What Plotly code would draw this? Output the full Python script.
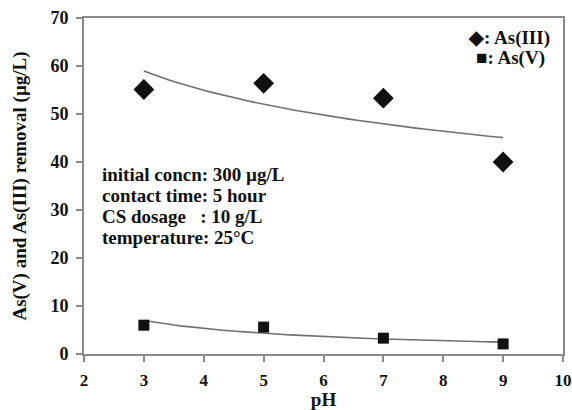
import numpy as np
import plotly.graph_objects as go

# Data
ph = [3, 5, 7, 9]
as3_removal = [55.1, 56.4, 53.3, 40.0]
as5_removal = [6.0, 5.6, 3.3, 2.1]
x_ticks = [2, 3, 4, 5, 6, 7, 8, 9, 10]
y_ticks = [0, 10, 20, 30, 40, 50, 60, 70]
conditions = ["initial concn: 300 µg/L", "contact time: 5 hour",
              "CS dosage   : 10 g/L", "temperature: 25°C"]
condition_y = [37.4, 33.0, 28.6, 24.2]
legend_labels = ["◆: As(III)", "■: As(V)"]

FONT = "Liberation Serif"
AXC = "#8a8a8a"
TXT = "#111111"


def power_trend(x, y):
    # Excel-style power trendline fitted to the data
    b, lna = np.polyfit(np.log(x), np.log(y), 1)
    xs = np.linspace(min(x), max(x), 60)
    return xs, np.exp(lna) * xs ** b


fig = go.Figure()
for ys in (as3_removal, as5_removal):
    tx, ty = power_trend(ph, ys)
    fig.add_trace(go.Scatter(x=tx, y=ty, mode="lines",
                             line=dict(color="#707070", width=1.6),
                             showlegend=False, hoverinfo="skip"))

fig.add_trace(go.Scatter(x=ph, y=as3_removal, mode="markers", name="As(III)",
                         marker=dict(symbol="diamond", size=16, color=TXT),
                         showlegend=False))
fig.add_trace(go.Scatter(x=ph, y=as5_removal, mode="markers", name="As(V)",
                         marker=dict(symbol="square", size=11, color=TXT),
                         showlegend=False))

for lbl, xp, yp in zip(legend_labels, [0.977, 0.967], [0.940, 0.881]):
    fig.add_annotation(x=xp, y=yp, xref="paper", yref="paper",
                       xanchor="right", yanchor="middle", showarrow=False,
                       text=f"<b>{lbl}</b>",
                       font=dict(family=FONT, size=19, color=TXT))

for c, yv in zip(conditions, condition_y):
    fig.add_annotation(x=2.27, y=yv, xref="x", yref="y",
                       xanchor="left", yanchor="middle", showarrow=False,
                       text=f"<b>{c.replace('   ', '&nbsp;&nbsp;&nbsp;')}</b>",
                       font=dict(family=FONT, size=19, color=TXT))

axis_common = dict(showline=True, linecolor=AXC, linewidth=2, mirror=True,
                   ticks="outside", tickcolor=AXC, ticklen=6, tickwidth=2,
                   showgrid=False, zeroline=False, automargin=False,
                   ticklabeloverflow="allow")

fig.update_layout(
    width=572, height=410,
    margin=dict(l=84, r=9, t=18, b=56),
    paper_bgcolor="white", plot_bgcolor="white",
    xaxis=dict(range=[2, 10], tickvals=x_ticks,
               ticktext=[f"<b>{v}</b>" for v in x_ticks], ticklabelstandoff=4,
               tickfont=dict(family=FONT, size=17, color=TXT),
               title=dict(text="<b>pH</b>", standoff=8,
                          font=dict(family=FONT, size=19, color=TXT)),
               **axis_common),
    yaxis=dict(range=[0, 70], tickvals=y_ticks,
               ticktext=[f"<b>{v}</b>" for v in y_ticks], ticklabelstandoff=4,
               tickfont=dict(family=FONT, size=18, color=TXT),
               title=dict(text="<b>As(V) and As(III) removal (µg/L)</b>", standoff=19,
                          font=dict(family=FONT, size=19, color=TXT)),
               **axis_common),
)

# remove the default 8px page margin so the figure fills the window exactly
fig.write_html("out.html",
               config={"displayModeBar": False},
               post_script="document.body.style.margin='0';"
                           "document.body.style.overflow='hidden';")
